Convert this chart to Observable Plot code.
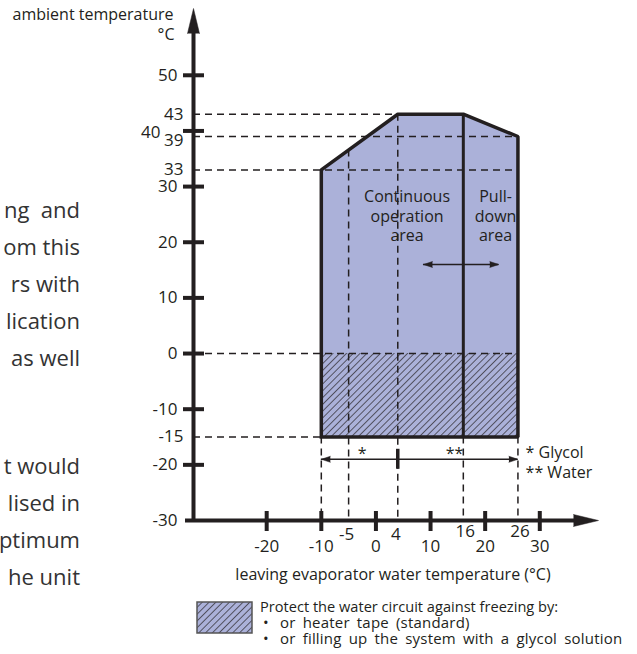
<!DOCTYPE html>
<html>
<head>
<meta charset="utf-8">
<script src="https://cdn.jsdelivr.net/npm/d3@7"></script>
<script src="https://cdn.jsdelivr.net/npm/@observablehq/plot@0.6"></script>
<style>
  html, body { margin: 0; padding: 0; background: #fff; }
  body { font-family: "Open Sans", sans-serif; color: #231f20; }
  #page { position: relative; width: 637px; height: 654px; overflow: hidden; }
  #chart { position: absolute; left: 0; top: 0; }
  .frag { position: absolute; right: 557px; font-size: 22px; line-height: 24px; white-space: pre; color: #333; }
  #legend { position: absolute; left: 196px; top: 601px; width: 441px; height: 53px; line-height: 16px; }
  #legend .t { position: absolute; white-space: nowrap; }
  #legend .h { font-size: 14.6px; }
  #legend .b { font-size: 15px; letter-spacing: 0.2px; word-spacing: 3px; }
</style>
</head>
<body>
<div id="page">
  <div id="chart"></div>
  <div id="frags"></div>
  <div id="legend"></div>
</div>
<script>
// ---------------- data ----------------
const xAxisStart = -33.4, xAxisEnd = 40.75;   // leaving water temperature axis extent (°C)
const yAxisStart = -30, yAxisEnd = 62;        // ambient temperature axis extent (°C)

const xTicks = [-20, -10, 0, 10, 20, 30];
const yTicks = [50, 40, 30, 20, 10, 0, -10, -20];
const yTickLabels = [50, 30, 20, 10, 0, -10, -20, -30];
const yShiftedLabel = [40];

// operating envelope (top boundary) and bottom
const envX = [-10, 4, 16, 26];
const envTop = [33, 43, 43, 39];
const envBottom = -15;
const freezeTop = 0;          // below this: hatched, freeze protection needed
const pulldownX = 16;         // separation continuous / pull-down

// dashed reference levels
const levelY = [43, 39, 33, 0, -15];
const levelEndX = [4, 26, 26, 26, -10];
const levelLabels = [43, 33, -15];
const levelLabelLow = [39];
const limitX = [-10, -5, 4, 16, 26];
const limitLabelsA = [-5, 4];
const limitLabelsB = [16, 26];

// glycol / water range arrow
const rangeY = -19;
const rangeX = [-10, 26];
const rangeSplitX = 4;
const rangeMarks = ["*", "**"];
const rangeMarkX = [-2.5, 14.4];
const rangeMarkY = -18;
const rangeNotes = ["* Glycol", "** Water"];
const rangeNoteX = 27.4;
const rangeNoteY = [-17.8, -21.4];

// continuous <-> pull-down shift arrow
const shiftX = [8.7, 22.5];
const shiftY = 16;

// area labels
const areaLabels = ["Continuous\noperation\narea", "Pull-\ndown\narea"];
const areaLabelX = [5.7, 21.9];
const areaLabelY = 24.8;

const yTitle = ["ambient temperature", "°C"];
const xTitle = "leaving evaporator water temperature (°C)";

const legendLines = ["Protect the water circuit against freezing by:", "or heater tape (standard)", "or filling up the system with a glycol solution"];

const fragments = ["ng  and", "om this", "rs with", "lication", "as well", "t would", "lised in", "ptimum", "he unit"];
const fragmentY = [212, 249, 286, 323, 360, 468, 505, 542, 579];

// ---------------- drawing ----------------
const INK = "#231f20";
const FILL = "#abb1d9";
const W = 637, H = 592, mL = 193, mR = 39, mT = 8, mB = 72;
const kx = (W - mL - mR) / (xAxisEnd - xAxisStart);
const ky = (H - mT - mB) / (yAxisEnd - yAxisStart);

const envIdx = envX.map((_, i) => i);
const outX = [envX[0], ...envX, envX[envX.length - 1], envX[0]];
const outY = [envBottom, ...envTop, envBottom, envBottom];
const outIdx = outX.map((_, i) => i);
const topAt = d3.scaleLinear(envX, envTop);
const limitTop = limitX.map(x => (x === envX[0] || x >= pulldownX) ? envBottom : topAt(x));
const lvIdx = levelY.map((_, i) => i);
const lmIdx = limitX.map((_, i) => i);

const dash = {stroke: INK, strokeWidth: 1.5, strokeDasharray: "7,5"};
const str = d => String(d);

const plot = Plot.plot({
  width: W, height: H,
  marginLeft: mL, marginRight: mR, marginTop: mT, marginBottom: mB,
  x: {domain: [xAxisStart, xAxisEnd], axis: null},
  y: {domain: [yAxisStart, yAxisEnd], axis: null},
  style: {fontFamily: "'Open Sans', sans-serif", fontSize: "16px", color: INK, background: "white", overflow: "visible"},
  marks: [
    Plot.areaY(envIdx, {x: i => envX[i], y1: envBottom, y2: i => envTop[i], fill: FILL}),
    Plot.rect([0], {x1: envX[0], x2: envX[envX.length - 1], y1: envBottom, y2: freezeTop, fill: "url(#hatch)"}),
    Plot.ruleY(lvIdx, {y: i => levelY[i], x1: xAxisStart, x2: i => levelEndX[i], ...dash}),
    Plot.ruleX(lmIdx, {x: i => limitX[i], y1: i => limitTop[i], y2: yAxisStart, ...dash}),
    Plot.line(outIdx, {x: i => outX[i], y: i => outY[i], stroke: INK, strokeWidth: 3.5, strokeLinejoin: "miter", strokeLinecap: "square"}),
    Plot.ruleX([pulldownX], {y1: envBottom, y2: topAt(pulldownX), stroke: INK, strokeWidth: 3}),
    // axes
    Plot.ruleX([xAxisStart], {y1: yAxisStart, y2: yAxisEnd - 18 / ky, stroke: INK, strokeWidth: 4}),
    Plot.ruleY([yAxisStart], {x1: xAxisStart - 8 / kx, x2: xAxisEnd - 18 / kx, stroke: INK, strokeWidth: 4}),
    Plot.vector([0], {x: xAxisStart, y: yAxisEnd, rotate: 0, length: 25, r: 6, shape: "spike", anchor: "end", fill: INK, stroke: INK, strokeWidth: 0.5}),
    Plot.vector([0], {x: xAxisEnd, y: yAxisStart, rotate: 90, length: 25, r: 6, shape: "spike", anchor: "end", fill: INK, stroke: INK, strokeWidth: 0.5}),
    Plot.ruleY(yTicks, {x1: xAxisStart - 10 / kx, x2: xAxisStart + 11 / kx, stroke: INK, strokeWidth: 4}),
    Plot.ruleX(xTicks, {y1: yAxisStart - 11 / ky, y2: yAxisStart + 9 / ky, stroke: INK, strokeWidth: 4}),
    // tick labels
    Plot.text(yTickLabels, {x: xAxisStart, y: d => d, text: str, dx: -16, textAnchor: "end", fontSize: 17}),
    Plot.text(yShiftedLabel, {x: xAxisStart, y: d => d, text: str, dx: -33, dy: 2, textAnchor: "end", fontSize: 17}),
    Plot.text(levelLabels, {x: xAxisStart, y: d => d, text: str, dx: -10, textAnchor: "end", fontSize: 17}),
    Plot.text(levelLabelLow, {x: xAxisStart, y: d => d, text: str, dx: -10, dy: 4, textAnchor: "end", fontSize: 17}),
    Plot.text(xTicks, {x: d => d, y: yAxisStart, text: str, dy: 26, fontSize: 17}),
    Plot.text(limitLabelsA, {x: d => d, y: yAxisStart, text: str, dy: 14, dx: -2, fontSize: 17}),
    Plot.text(limitLabelsB, {x: d => d, y: yAxisStart, text: str, dy: 11, dx: 2, fontSize: 17}),
    // titles
    Plot.text([yTitle[0]], {x: xAxisStart, y: yAxisEnd, dx: -20, dy: 6, textAnchor: "end", fontSize: 16}),
    Plot.text([yTitle[1]], {x: xAxisStart, y: yAxisEnd, dx: -19, dy: 26, textAnchor: "end", fontSize: 16}),
    Plot.text([xTitle], {x: (xAxisStart + xAxisEnd) / 2, y: yAxisStart, dx: -3, dy: 54, fontSize: 16}),
    // area labels
    Plot.text(areaLabels, {x: (d, i) => areaLabelX[i], y: areaLabelY, lineHeight: 1.22, fontSize: 16}),
    // shift arrow
    Plot.ruleY([shiftY], {x1: shiftX[0], x2: shiftX[1], stroke: INK, strokeWidth: 1.5}),
    Plot.vector(shiftX, {x: d => d, y: shiftY, rotate: (d, i) => i === 0 ? -90 : 90, length: 9, r: 3, shape: "spike", anchor: "end", fill: INK, stroke: INK, strokeWidth: 0.5}),
    // glycol / water range arrow
    Plot.ruleY([rangeY], {x1: rangeX[0], x2: rangeX[1], stroke: INK, strokeWidth: 1.5}),
    Plot.vector(rangeX, {x: d => d, y: rangeY, rotate: (d, i) => i === 0 ? -90 : 90, length: 9, r: 3, shape: "spike", anchor: "end", fill: INK, stroke: INK, strokeWidth: 0.5}),
    Plot.ruleX([rangeSplitX], {y1: rangeY - 10 / ky, y2: rangeY + 10 / ky, stroke: INK, strokeWidth: 3.5}),
    Plot.text(rangeMarks, {x: (d, i) => rangeMarkX[i], y: rangeMarkY, fontSize: 16}),
    Plot.text(rangeNotes, {x: rangeNoteX, y: (d, i) => rangeNoteY[i], textAnchor: "start", fontSize: 16})
  ]
});

const ns = "http://www.w3.org/2000/svg";
const defs = document.createElementNS(ns, "defs");
defs.innerHTML = '<pattern id="hatch" patternUnits="userSpaceOnUse" width="4.8" height="4.8" patternTransform="rotate(45)"><line x1="0" y1="-1" x2="0" y2="6" stroke="#231f20" stroke-width="1.3"/></pattern>';
plot.insertBefore(defs, plot.firstChild);
document.getElementById("chart").appendChild(plot);

// text fragments of the surrounding document (cut by the crop)
const fr = document.getElementById("frags");
fragments.forEach((t, i) => {
  const d = document.createElement("div");
  d.className = "frag";
  d.style.top = (fragmentY[i] - 15) + "px";
  d.textContent = t;
  fr.appendChild(d);
});

// legend below the chart
const lg = document.getElementById("legend");
lg.innerHTML = '<svg width="58" height="34" style="position:absolute;left:0;top:0">' +
  '<defs><pattern id="hatch2" patternUnits="userSpaceOnUse" width="4.8" height="4.8" patternTransform="rotate(45)"><line x1="0" y1="-1" x2="0" y2="6" stroke="#231f20" stroke-width="1.3"/></pattern></defs>' +
  '<rect x="1" y="1" width="55" height="31" fill="' + FILL + '"/>' +
  '<rect x="1" y="1" width="55" height="31" fill="url(#hatch2)" stroke="#555" stroke-width="1.5"/></svg>';
legendLines.forEach((t, i) => {
  const d = document.createElement("div");
  d.className = "t " + (i === 0 ? "h" : "b");
  d.style.top = (-3 + i * 16) + "px";
  if (i === 0) { d.style.left = "64px"; d.textContent = t; }
  else {
    d.style.left = "67px";
    d.innerHTML = '<span style="display:inline-block;width:17px;word-spacing:0">•</span>' + t;
  }
  lg.appendChild(d);
});
</script>
</body>
</html>
